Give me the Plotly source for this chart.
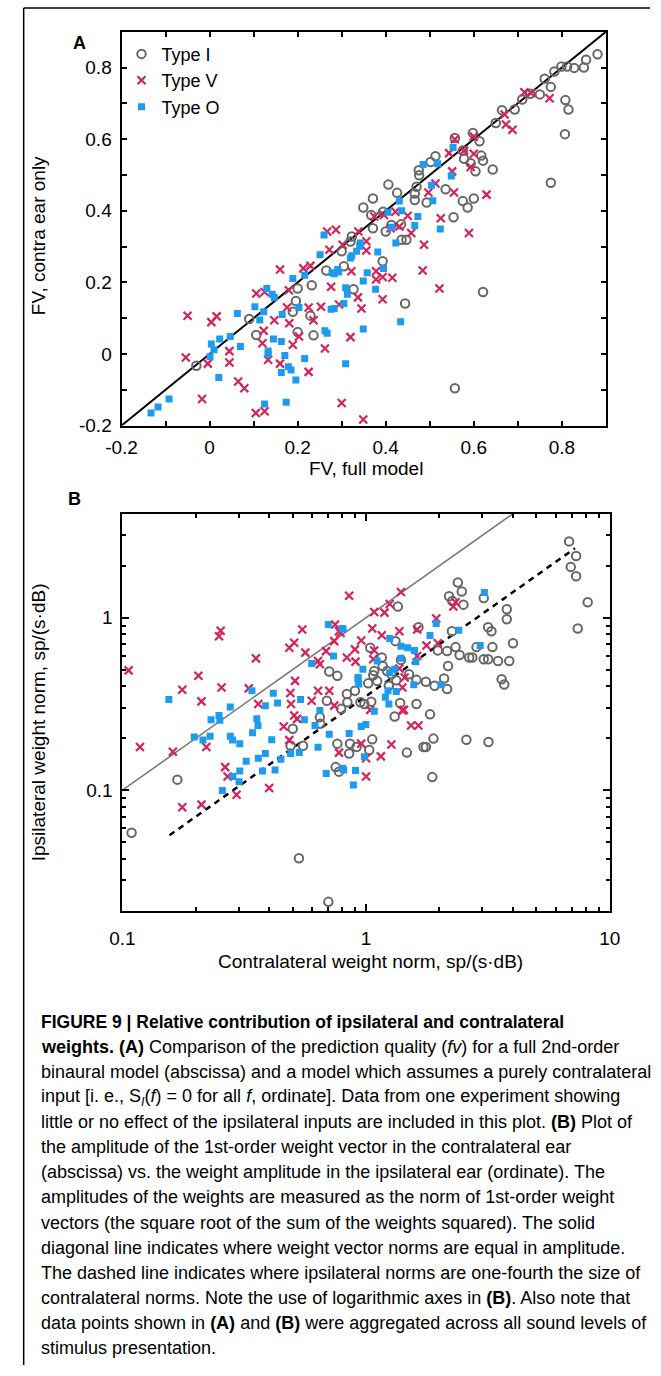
import plotly.graph_objects as go

W, H = 661, 1376

# ---------------- Panel A data (FV full model vs FV contra ear only) ----------------
a_typeI_x = [0.881,0.855,0.850,0.828,0.812,0.799,0.783,0.761,0.775,0.750,0.728,0.710,0.693,0.664,0.650,0.808,0.815,0.807,0.775,
             0.598,0.613,0.575,0.578,0.593,0.604,0.617,0.621,0.643,0.513,0.502,0.475,0.476,0.470,0.466,0.466,0.493,0.536,0.575,
             0.586,0.600,0.554,0.426,0.406,0.371,0.349,0.371,0.400,0.436,0.447,0.557,
             0.367,0.394,0.413,0.435,0.323,0.320,0.300,0.305,0.393,0.327,0.444,0.621,0.557,
             -0.030,0.090,0.106,0.200,0.232,0.196,0.189,0.229,0.200,0.236,0.265]
a_typeI_y = [0.837,0.822,0.800,0.799,0.803,0.803,0.789,0.769,0.746,0.725,0.727,0.711,0.683,0.681,0.645,0.709,0.683,0.614,0.478,
             0.617,0.594,0.568,0.545,0.533,0.510,0.554,0.540,0.515,0.552,0.536,0.513,0.499,0.467,0.448,0.430,0.423,0.460,0.427,
             0.409,0.434,0.382,0.450,0.473,0.434,0.409,0.351,0.342,0.319,0.319,0.603,
             0.388,0.397,0.360,0.362,0.328,0.314,0.287,0.245,0.259,0.181,0.141,0.173,-0.096,
             -0.033,0.098,0.053,0.183,0.192,0.148,0.118,0.107,0.061,0.052,0.233]

a_typeV_x = [0.715,0.730,0.772,0.670,0.673,0.688,0.557,0.600,0.544,0.578,0.600,0.593,0.551,0.513,0.497,0.555,0.629,0.525,0.589,
             0.487,0.450,0.431,0.422,0.458,0.374,0.396,0.338,0.287,0.302,0.356,
             0.484,0.522,0.411,0.378,0.378,0.393,0.415,0.393,0.337,0.345,0.322,0.320,0.356,0.294,0.300,0.349,
             -0.050,-0.054,0.004,0.016,-0.004,-0.017,0.045,0.045,0.065,0.079,0.106,0.125,0.123,0.120,0.133,0.105,0.125,
             0.147,0.160,0.180,0.176,0.181,0.189,0.160,0.213,0.229,0.225,0.236,0.203,0.225,0.262,0.253,0.276,0.272,0.267]
a_typeV_y = [0.731,0.729,0.714,0.669,0.641,0.626,0.600,0.607,0.561,0.568,0.559,0.522,0.510,0.476,0.451,0.451,0.445,0.379,0.338,
             0.305,0.386,0.356,0.397,0.338,0.384,0.388,0.342,0.347,0.305,0.315,
             0.233,0.183,0.351,0.231,0.208,0.215,0.213,0.153,0.158,0.127,0.231,0.047,0.289,0.138,-0.137,-0.183,
             0.107,-0.010,0.089,0.105,-0.027,-0.126,0.008,-0.024,-0.077,-0.096,0.169,0.173,0.065,0.030,-0.016,-0.165,-0.160,
             0.094,0.236,0.178,0.130,0.086,0.026,-0.027,0.239,0.246,0.130,0.094,0.049,-0.050,0.015,0.132,0.188,0.291,0.342]

a_typeO_x = [0.553,0.485,0.518,0.549,0.504,0.507,0.431,0.436,0.405,0.473,0.466,0.413,0.524,0.423,0.342,
             0.382,0.334,0.323,0.291,0.283,0.358,0.395,0.349,0.309,0.313,0.305,0.377,0.283,0.434,0.349,0.309,
             -0.133,-0.117,-0.092,0.001,0.004,0.010,0.023,0.047,0.021,0.063,0.070,0.103,0.114,0.123,0.130,0.142,0.147,
             0.133,0.133,0.145,0.163,0.125,0.163,0.171,0.179,0.185,0.174,0.196,0.216,0.165,0.189,0.203,0.216,0.251,
             0.260,0.262,0.267,0.276,0.278,0.293,0.320,0.341]
a_typeO_y = [0.577,0.529,0.531,0.497,0.471,0.428,0.427,0.400,0.396,0.384,0.359,0.354,0.349,0.310,0.310,
             0.285,0.287,0.274,0.236,0.224,0.227,0.239,0.204,0.185,0.167,0.141,0.181,0.127,0.090,0.070,-0.027,
             -0.165,-0.148,-0.126,-0.008,0.028,0.012,0.042,0.049,-0.066,0.113,0.021,0.132,0.095,0.118,0.183,0.167,0.158,
             0.008,-0.001,0.042,0.035,-0.140,-0.052,-0.004,-0.036,-0.045,-0.135,-0.073,-0.013,0.110,0.211,0.130,0.220,0.277,
             0.332,0.065,0.058,0.125,0.227,0.229,0.268,0.301]

a_diag = [-0.2, 0.9]

# ---------------- Panel B data (contralateral vs ipsilateral weight norm) ----------------
b_typeI_x = [0.706,0.762,0.834,0.900,0.690,0.790,
             6.81,7.28,6.92,7.28,8.12,7.39,2.38,2.47,2.19,2.26,2.51,3.04,3.78,3.78,1.35,1.64,3.17,3.27,4.01,2.25,2.33,2.42,
             2.65,2.73,2.84,3.30,3.04,3.17,3.48,3.87,3.60,3.69,1.97,2.15,2.17,2.09,2.15,1.91,1.76,1.61,1.61,1.50,1.32,1.04,
             1.39,1.16,1.08,1.07,1.17,1.22,1.27,1.33,1.11,1.02,1.24,0.948,0.984,1.05,1.38,
             0.168,0.109,0.530,0.500,0.490,0.551,0.646,0.649,0.762,0.859,0.852,0.914,0.750,0.774,0.838,0.700,
             1.83,1.31,1.06,1.03,1.47,1.72,1.76,1.89,2.58,3.18,1.87]
b_typeI_y = [0.487,0.460,0.361,0.377,0.330,0.296,
             2.77,2.28,1.97,1.74,1.23,0.865,1.60,1.42,1.33,1.25,1.19,1.30,1.12,0.98,1.16,0.88,0.88,0.834,0.71,0.834,0.675,0.607,
             0.587,0.587,0.675,0.675,0.574,0.574,0.561,0.561,0.44,0.41,0.646,0.64,0.525,0.444,0.386,0.403,0.425,0.436,0.316,0.47,0.731,0.67,
             0.569,0.587,0.49,0.464,0.525,0.49,0.47,0.434,0.43,0.416,0.403,0.323,0.316,0.326,0.32,
             0.115,0.0566,0.0403,0.227,0.181,0.181,0.265,0.243,0.186,0.186,0.163,0.178,0.136,0.128,0.323,0.0225,
             0.275,0.267,0.197,0.171,0.165,0.178,0.178,0.199,0.196,0.19,0.119]

b_typeV_x = [0.106,0.176,0.205,0.211,0.249,0.253,0.255,0.330,0.353,0.361,0.484,0.507,0.547,0.563,0.511,0.489,0.492,0.598,
             0.635,0.635,0.646,0.685,0.706,0.740,0.746,0.774,0.852,0.834,0.900,0.905,0.740,
             1.39,1.25,1.08,1.19,1.94,2.28,2.33,1.06,1.37,1.62,0.786,0.955,1.16,1.08,1.07,1.37,1.77,1.97,1.62,1.44,1.41,1.41,
             0.118,0.161,0.221,0.176,0.211,0.264,0.270,0.294,0.400,0.459,0.484,0.507,0.521,0.774,
             1.00,1.15,1.27,1.53,1.64,0.955,1.00,1.43,1.04]
b_typeV_y = [0.495,0.382,0.46,0.327,0.78,0.84,0.394,0.389,0.581,0.316,0.67,0.716,0.853,0.627,0.43,0.366,0.316,0.330,
             0.377,0.561,0.537,0.64,0.377,0.731,0.912,0.834,1.34,0.587,0.655,0.556,0.309,
             1.41,1.20,1.08,1.07,0.99,1.16,1.23,0.865,0.834,0.853,0.815,0.738,0.79,0.646,0.574,0.507,0.69,0.71,0.60,0.45,0.394,0.29,
             0.178,0.167,0.178,0.0796,0.0824,0.136,0.12,0.094,0.103,0.234,0.195,0.271,0.259,0.165,
             0.12,0.157,0.184,0.237,0.237,0.186,0.153,0.292,0.292]

b_typeO_x = [0.155,0.277,0.340,0.386,0.416,0.433,0.538,0.598,0.700,0.805,0.735,0.927,0.646,
             3.06,1.94,1.83,2.40,2.94,0.798,1.25,1.39,1.48,1.58,1.60,1.39,1.11,0.97,0.927,0.933,1.25,1.31,1.57,2.03,1.23,1.33,1.20,1.24,1.08,
             0.231,0.249,0.251,0.197,0.214,0.229,0.277,0.283,0.303,0.284,0.303,0.301,0.257,0.322,0.361,0.386,0.376,0.423,0.447,
             0.342,0.410,0.356,0.360,0.490,0.532,0.558,0.617,0.635,0.686,0.706,0.852,0.800,0.905,0.887,
             0.955,0.998,0.984,0.809]
b_typeO_y = [0.335,0.303,0.377,0.309,0.364,0.32,0.335,0.542,0.912,0.861,0.60,0.44,0.29,
             1.40,0.924,0.788,0.845,0.69,0.865,0.757,0.684,0.67,0.646,0.556,0.581,0.561,0.502,0.45,0.412,0.48,0.502,0.408,0.408,0.377,0.373,0.346,0.316,0.287,
             0.256,0.271,0.254,0.203,0.195,0.205,0.205,0.195,0.186,0.12,0.129,0.112,0.0995,0.147,0.153,0.163,0.129,0.131,0.151,
             0.215,0.196,0.259,0.237,0.163,0.165,0.256,0.237,0.177,0.125,0.211,0.213,0.134,0.13,0.107,
             0.234,0.24,0.156,0.131]

b_equal_x = [0.1, 4.0]
b_dash_x = [0.156, 7.2]
b_dash_ratio = 2.85

a_major = [-0.2, 0.0, 0.2, 0.4, 0.6, 0.8]
a_major_labels = ["-0.2", "0", "0.2", "0.4", "0.6", "0.8"]
a_minor = [-0.1, 0.1, 0.3, 0.5, 0.7]
b_x_major = [0.1, 1, 10]
b_x_major_labels = ["0.1", "1", "10"]
b_x_minor = [0.2,0.3,0.4,0.5,0.6,0.7,0.8,0.9,2,3,4,5,6,7,8,9]
b_y_major = [0.1, 1]
b_y_major_labels = ["0.1", "1"]
b_y_minor = [0.02,0.03,0.04,0.05,0.06,0.07,0.08,0.09,0.2,0.3,0.4,0.5,0.6,0.7,0.8,0.9,2,3,4]

caption_title = "<b>FIGURE 9 | Relative contribution of ipsilateral and contralateral</b>"
caption_lines = [
    "<b>weights. (A)</b> Comparison of the prediction quality (<i>fv</i>) for a full 2nd-order",
    "binaural model (abscissa) and a model which assumes a purely contralateral",
    "input [i. e., S<sub><i>I</i></sub>(<i>f</i>) = 0 for all <i>f</i>, ordinate]. Data from one experiment showing",
    "little or no effect of the ipsilateral inputs are included in this plot. <b>(B)</b> Plot of",
    "the amplitude of the 1st-order weight vector in the contralateral ear",
    "(abscissa) vs. the weight amplitude in the ipsilateral ear (ordinate). The",
    "amplitudes of the weights are measured as the norm of 1st-order weight",
    "vectors (the square root of the sum of the weights squared). The solid",
    "diagonal line indicates where weight vector norms are equal in amplitude.",
    "The dashed line indicates where ipsilateral norms are one-fourth the size of",
    "contralateral norms. Note the use of logarithmic axes in <b>(B)</b>. Also note that",
    "data points shown in <b>(A)</b> and <b>(B)</b> were aggregated across all sound levels of",
    "stimulus presentation.",
]

# ---------------- styling ----------------
FONT = "Liberation Sans, Arial, Helvetica, sans-serif"
GREY = "#676767"
CRIMSON = "#d3245c"
BLUE = "#1e9bef"

def px(x):
    return x / W

def py(y):
    return 1 - y / H

fig = go.Figure()

def add_sets(xa, ya, dataI, dataV, dataO, show):
    fig.add_trace(go.Scatter(x=dataI[0], y=dataI[1], mode="markers", name="Type I", showlegend=show,
                             xaxis=xa, yaxis=ya,
                             marker=dict(symbol="circle-open", size=8.5, color=GREY, line=dict(width=2, color=GREY))))
    fig.add_trace(go.Scatter(x=dataV[0], y=dataV[1], mode="markers", name="Type V", showlegend=show,
                             xaxis=xa, yaxis=ya,
                             marker=dict(symbol="x-thin-open", size=8, color=CRIMSON, line=dict(width=2.2, color=CRIMSON))))
    fig.add_trace(go.Scatter(x=dataO[0], y=dataO[1], mode="markers", name="Type O", showlegend=show,
                             xaxis=xa, yaxis=ya,
                             marker=dict(symbol="square", size=7, color=BLUE, line=dict(width=0))))

# diagonal line panel A
fig.add_trace(go.Scatter(x=a_diag, y=a_diag, mode="lines", line=dict(color="black", width=2),
                         showlegend=False, xaxis="x", yaxis="y", hoverinfo="skip"))
add_sets("x", "y", (a_typeI_x, a_typeI_y), (a_typeV_x, a_typeV_y), (a_typeO_x, a_typeO_y), True)

# panel B lines
fig.add_trace(go.Scatter(x=b_equal_x, y=b_equal_x, mode="lines", line=dict(color="#7a7a7a", width=1.6),
                         showlegend=False, xaxis="x2", yaxis="y2", hoverinfo="skip"))
fig.add_trace(go.Scatter(x=b_dash_x, y=[v / b_dash_ratio for v in b_dash_x], mode="lines",
                         line=dict(color="black", width=2.5, dash="6px,5px"),
                         showlegend=False, xaxis="x2", yaxis="y2", hoverinfo="skip"))
add_sets("x2", "y2", (b_typeI_x, b_typeI_y), (b_typeV_x, b_typeV_y), (b_typeO_x, b_typeO_y), False)

axis_common = dict(showline=True, linecolor="black", linewidth=2, mirror="ticks", ticks="inside",
                   tickcolor="black", tickwidth=1.5, showgrid=False, zeroline=False,
                   tickfont=dict(family=FONT, size=19, color="black"))

fig.update_layout(
    width=W, height=H, margin=dict(l=0, r=0, t=0, b=0),
    paper_bgcolor="white", plot_bgcolor="white",
    font=dict(family=FONT, color="black"),
    xaxis=dict(domain=[px(110), px(615)], range=[-0.2, 0.9], tickmode="array", tickvals=a_major,
               ticktext=a_major_labels, ticklen=5, anchor="y", ticklabelstandoff=4,
               minor=dict(tickmode="array", tickvals=a_minor, ticks="inside", ticklen=5, tickcolor="black", tickwidth=1.5),
               **axis_common),
    yaxis=dict(domain=[py(429), py(32)], range=[-0.2, 0.9], tickmode="array", tickvals=a_major,
               ticktext=a_major_labels, ticklen=5, anchor="x", ticklabelstandoff=4,
               minor=dict(tickmode="array", tickvals=a_minor, ticks="inside", ticklen=5, tickcolor="black", tickwidth=1.5),
               **axis_common),
    xaxis2=dict(domain=[px(111), px(619)], type="log", range=[-1, 1], tickmode="array", tickvals=b_x_major,
                ticktext=b_x_major_labels, ticklen=7, anchor="y2", ticklabelstandoff=10,
                minor=dict(tickmode="array", tickvals=b_x_minor, ticks="inside", ticklen=4, tickcolor="black", tickwidth=1.5),
                **axis_common),
    yaxis2=dict(domain=[py(918), py(518)], type="log", range=[-1.69897, 0.60206], tickmode="array", tickvals=b_y_major,
                ticktext=b_y_major_labels, ticklen=7, anchor="x2", ticklabelstandoff=4,
                minor=dict(tickmode="array", tickvals=b_y_minor, ticks="inside", ticklen=4, tickcolor="black", tickwidth=1.5),
                **axis_common),
    legend=dict(x=px(110), y=py(36), xanchor="left", yanchor="top", bgcolor="rgba(0,0,0,0)",
                font=dict(family=FONT, size=18, color="black"), tracegroupgap=0, itemwidth=30),
)

ann = []
def label(text, x, y, size=19, angle=0, xanchor="center"):
    ann.append(dict(text=text, x=px(x), y=py(y), xref="paper", yref="paper", showarrow=False,
                    xanchor=xanchor, yanchor="middle", textangle=angle,
                    font=dict(family=FONT, size=size, color="black")))

label("<b>A</b>", 66, 43, size=18)
label("<b>B</b>", 61, 503, size=18)
label("FV, contra ear only", 23, 238, angle=-90)
label("FV, full model", 365, 472)
label("Ipsilateral weight norm, sp/(s·dB)", 23, 728, angle=-90)
label("Contralateral weight norm, sp/(s·dB)", 370, 969)

label(caption_title, 24, 1030, size=17.5, xanchor="left")
for i, line in enumerate(caption_lines):
    label(line, 24, 1030 + (i + 1) * 25.3, size=18, xanchor="left")

fig.update_layout(annotations=ann)

fig.update_layout(shapes=[
    dict(type="line", xref="paper", yref="paper", x0=px(8), x1=1.0, y0=py(8), y1=py(8),
         line=dict(color="black", width=1.5)),
    dict(type="line", xref="paper", yref="paper", x0=px(8), x1=px(8), y0=py(8), y1=0,
         line=dict(color="black", width=1.5)),
])

fig.write_html("out.html")
